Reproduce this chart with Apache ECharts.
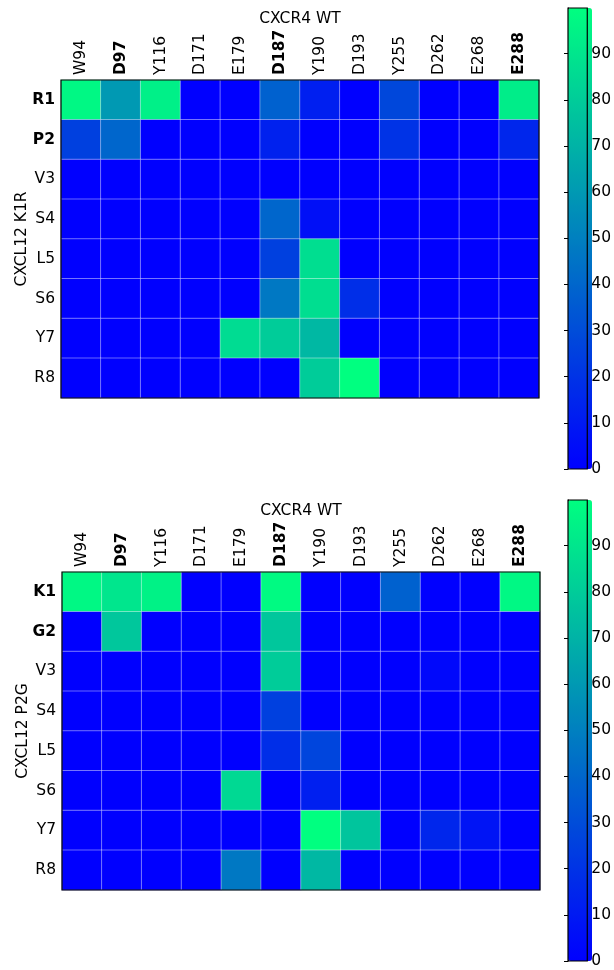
<!DOCTYPE html>
<html>
<head>
<meta charset="utf-8">
<script src="https://cdn.jsdelivr.net/npm/echarts@6/dist/echarts.min.js"></script>
<style>
html,body{margin:0;padding:0;background:#fff;}
#chart{width:614px;height:970px;}
</style>
</head>
<body>
<div id="chart"></div>
<script>
// ---- data ----
const columns = ['W94','D97','Y116','D171','E179','D187','Y190','D193','Y255','D262','E268','E288'];
const boldColumns = ['D97','D187','E288'];
const rowsK1R = ['R1','P2','V3','S4','L5','S6','Y7','R8'];
const boldRowsK1R = ['R1','P2'];
const rowsP2G = ['K1','G2','V3','S4','L5','S6','Y7','R8'];
const boldRowsP2G = ['K1','G2'];
const xTitle = 'CXCR4 WT';
const yTitleK1R = 'CXCL12 K1R';
const yTitleP2G = 'CXCL12 P2G';
const colorbarMin = 0;
const colorbarMax = 99.9;
const colorbarTickStep = 10;

const valuesK1R = [
  [97, 60, 94, 0, 0, 38, 12, 0, 28, 0, 0, 93],
  [25, 40, 0, 0, 0, 13, 0, 0, 20, 0, 0, 15],
  [0, 0, 0, 0, 0, 0, 0, 0, 0, 0, 0, 0],
  [0, 0, 0, 0, 0, 40, 6, 0, 0, 0, 0, 0],
  [0, 0, 0, 0, 0, 25, 87, 0, 0, 0, 0, 0],
  [0, 0, 0, 0, 0, 47, 87, 18, 0, 0, 0, 0],
  [0, 0, 0, 0, 86, 80, 72, 0, 0, 0, 0, 0],
  [0, 0, 0, 0, 0, 0, 80, 99.9, 0, 0, 0, 0]
];
const valuesP2G = [
  [97, 90, 95, 0, 0, 98, 0, 0, 38, 0, 0, 97],
  [0, 78, 0, 0, 0, 78, 0, 0, 0, 0, 0, 0],
  [0, 0, 0, 0, 0, 80, 0, 0, 0, 3, 0, 0],
  [0, 0, 0, 0, 0, 25, 0, 0, 0, 0, 0, 0],
  [0, 0, 0, 0, 0, 18, 27, 0, 0, 0, 0, 0],
  [0, 0, 0, 0, 85, 0, 12, 0, 0, 0, 0, 0],
  [0, 0, 0, 0, 0, 0, 99.9, 77, 0, 15, 8, 0],
  [0, 0, 0, 0, 47, 0, 72, 0, 0, 0, 0, 0]
];

// ---- build ----
function toCells(matrix){
  const out = [];
  matrix.forEach((row, r) => row.forEach((v, c) => out.push([c, r, v])));
  return out;
}
const FONT = 'DejaVu Sans';
const FS = 15.5;
const winter = ['#0000ff', '#00ff80'];

function boldFmt(list){
  return v => list.indexOf(v) >= 0 ? '{b|' + v + '}' : v;
}
const rich = { b: { fontWeight: 'bold', fontFamily: FONT, fontSize: FS, color: '#000' } };

const heatGrids = [
  { left: 61, top: 80, width: 478, height: 318 },
  { left: 62, top: 572, width: 478, height: 318 }
];
const barGrids = [
  { left: 568, top: 8, width: 24, height: 461 },
  { left: 568, top: 500, width: 24, height: 461 }
];

const grid = [];
const xAxis = [];
const yAxis = [];
const series = [];
const visualMap = [];

[[rowsK1R, boldRowsK1R, yTitleK1R, valuesK1R], [rowsP2G, boldRowsP2G, yTitleP2G, valuesP2G]].forEach((cfg, i) => {
  const [rows, boldRows, yName, vals] = cfg;
  const g = heatGrids[i];
  grid.push(Object.assign({ show: true, z: 5, backgroundColor: 'transparent', borderColor: '#000', borderWidth: 1.2 }, g));
  xAxis.push({
    type: 'category', data: columns, gridIndex: grid.length - 1, position: 'top',
    axisLine: { show: false }, axisTick: { show: false }, splitLine: { show: false },
    axisLabel: { rotate: -90, margin: 5, interval: 0, fontFamily: FONT, fontSize: FS, color: '#000', formatter: boldFmt(boldColumns), rich: rich },
    name: xTitle, nameLocation: 'middle', nameGap: 53, nameMoveOverlap: false,
    nameTextStyle: { fontFamily: FONT, fontSize: FS, color: '#000' }
  });
  yAxis.push({
    type: 'category', data: rows, inverse: true, gridIndex: grid.length - 1,
    axisLine: { show: false }, axisTick: { show: false }, splitLine: { show: false },
    axisLabel: { margin: 6, interval: 0, fontFamily: FONT, fontSize: FS, color: '#000', formatter: boldFmt(boldRows), rich: rich },
    name: yName, nameLocation: 'middle', nameGap: 31, nameRotate: 90, nameMoveOverlap: false,
    nameTextStyle: { fontFamily: FONT, fontSize: FS, color: '#000' }
  });
  series.push({
    type: 'heatmap', xAxisIndex: xAxis.length - 1, yAxisIndex: yAxis.length - 1,
    data: toCells(vals), z: 2,
    itemStyle: { borderColor: 'rgba(255,255,255,0.4)', borderWidth: 1 },
    emphasis: { disabled: true }
  });
  const b = barGrids[i];
  visualMap.push({
    type: 'continuous', min: colorbarMin, max: colorbarMax, seriesIndex: i,
    calculable: false, realtime: false, hoverLink: false, text: null, showLabel: false,
    left: b.left, top: b.top, itemWidth: b.width, itemHeight: b.height, padding: 0,
    orient: 'vertical', inRange: { color: winter }, textStyle: { color: 'transparent' }
  });
  grid.push(Object.assign({ show: true, z: 5, backgroundColor: 'transparent', borderColor: '#000', borderWidth: 1.2 }, b));
  xAxis.push({ type: 'value', gridIndex: grid.length - 1, show: false, min: 0, max: 1 });
  yAxis.push({
    type: 'value', gridIndex: grid.length - 1, position: 'right',
    min: colorbarMin, max: colorbarMax, interval: colorbarTickStep,
    axisLine: { show: true, lineStyle: { color: '#000', width: 1 } },
    axisTick: { show: true, inside: true, length: 4, lineStyle: { color: '#000' } },
    splitLine: { show: false },
    axisLabel: { margin: 4, fontFamily: FONT, fontSize: FS, color: '#000', showMaxLabel: false }
  });
});

const chart = echarts.init(document.getElementById('chart'), null, { renderer: 'canvas' });
chart.setOption({
  animation: false,
  backgroundColor: '#fff',
  grid, xAxis, yAxis, series, visualMap
});
</script>
</body>
</html>
